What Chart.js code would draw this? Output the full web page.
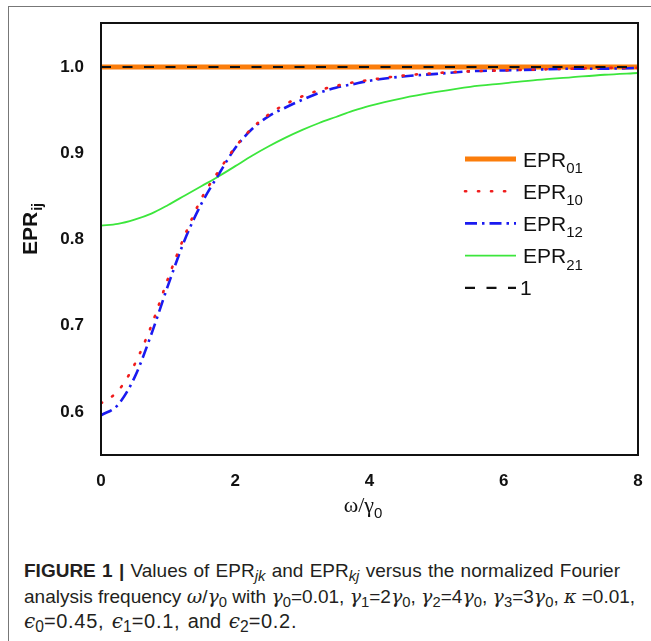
<!DOCTYPE html>
<html>
<head>
<meta charset="utf-8">
<script src="https://cdn.jsdelivr.net/npm/chart.js@4.4.1/dist/chart.umd.min.js"></script>
<style>
  html, body { margin: 0; padding: 0; width: 651px; height: 641px; overflow: hidden; background: #fff; }
  #frame { position: absolute; left: 8px; top: 6px; width: 700px; height: 700px;
           border-top: 1.5px solid #777; border-left: 1.5px solid #777; }
  #chart { position: absolute; left: 0; top: 0; }
  #cap { position: absolute; left: 24px; top: 559px; color: #231f20; white-space: nowrap;
         font-family: 'Liberation Sans', Arial, sans-serif;
         font-size: 19px; line-height: 24.5px; }
  #cap .m { font-family: 'DejaVu Serif', 'Liberation Serif', serif; font-style: italic; }
  #cap sub { font-size: 78%; vertical-align: -0.25em; line-height: 0; }
  #cap .l1 { word-spacing: 1px; }
  #cap .l3 { font-size: 20px; word-spacing: 2px; }
  #cap .l3 .n { letter-spacing: 0.7px; }
</style>
</head>
<body>
<div id="frame"></div>
<canvas id="chart" width="651" height="540"></canvas>
<div id="cap">
  <span class="l1"><b>FIGURE 1 |</b> Values of EPR<sub><i>jk</i></sub> and EPR<sub><i>kj</i></sub> versus the normalized Fourier</span><br>
  <span class="l2">analysis frequency <span class="m">ω</span>/<span class="m">γ</span><sub>0</sub> with <span class="m">γ</span><sub>0</sub>=0.01, <span class="m">γ</span><sub>1</sub>=2<span class="m">γ</span><sub>0</sub>, <span class="m">γ</span><sub>2</sub>=4<span class="m">γ</span><sub>0</sub>, <span class="m">γ</span><sub>3</sub>=3<span class="m">γ</span><sub>0</sub>, <span class="m">κ</span> =0.01,</span><br>
  <span class="l3"><span class="m">ϵ</span><sub>0</sub><span class="n">=0.45,</span> <span class="m">ϵ</span><sub>1</sub><span class="n">=0.1,</span> and <span class="m">ϵ</span><sub>2</sub><span class="n">=0.2.</span></span>
</div>
<script>
// omega / gamma0
const omega = [0, 0.25, 0.5, 0.75, 1, 1.25, 1.5, 1.75, 2, 2.25, 2.5, 2.75, 3, 3.25, 3.5, 3.75, 4, 4.5, 5, 5.5, 6, 6.5, 7, 7.5, 8];
const epr10 = [0.610, 0.624, 0.655, 0.700, 0.755, 0.805, 0.848, 0.879, 0.907, 0.929, 0.945, 0.957, 0.966, 0.973, 0.978, 0.982, 0.985, 0.990, 0.993, 0.995, 0.996, 0.997, 0.998, 0.999, 0.999];
const epr12 = [0.596, 0.608, 0.640, 0.690, 0.747, 0.800, 0.842, 0.875, 0.906, 0.928, 0.943, 0.953, 0.962, 0.970, 0.976, 0.980, 0.984, 0.989, 0.992, 0.995, 0.996, 0.997, 0.998, 0.998, 0.999];
const epr21 = [0.816, 0.818, 0.823, 0.830, 0.840, 0.851, 0.862, 0.873, 0.885, 0.897, 0.908, 0.918, 0.927, 0.935, 0.942, 0.949, 0.955, 0.964, 0.971, 0.977, 0.981, 0.985, 0.988, 0.991, 0.993];
const flatX = [0, 8];
const epr01 = [1, 1];
const unity = [1, 1];

const xTicks = [0, 2, 4, 6, 8];
const yTicks = [0.6, 0.7, 0.8, 0.9, 1.0];
const legendNames = [['EPR', '01'], ['EPR', '10'], ['EPR', '12'], ['EPR', '21'], ['1', '']];

const pts = (xs, ys) => xs.map((x, i) => ({ x: x, y: ys[i] }));
const SANS = '"Liberation Sans", Arial, sans-serif';

// legend, plot box and axis titles (need subscripts)
const extras = {
  id: 'extras',
  afterDraw(chart) {
    const ctx = chart.ctx, a = chart.chartArea;
    ctx.save();
    ctx.strokeStyle = '#111';
    ctx.lineWidth = 2;
    ctx.setLineDash([]);
    ctx.strokeRect(a.left, a.top, a.right - a.left, a.bottom - a.top);

    // legend
    chart.data.datasets.forEach((ds, i) => {
      const y = 159 + i * 32.2;
      ctx.save();
      ctx.strokeStyle = ds.borderColor;
      ctx.lineWidth = ds.borderWidth;
      ctx.lineCap = ds.borderCapStyle || 'butt';
      ctx.setLineDash(ds.borderDash || []);
      ctx.beginPath();
      ctx.moveTo(465, y);
      ctx.lineTo(516, y);
      ctx.stroke();
      ctx.restore();
      const nm = legendNames[i];
      ctx.fillStyle = '#111';
      ctx.textAlign = 'left';
      ctx.textBaseline = 'alphabetic';
      ctx.font = '21px ' + SANS;
      const tx = nm[1] ? 523 : 520;
      ctx.fillText(nm[0], tx, y + 7.5);
      const w = ctx.measureText(nm[0]).width;
      ctx.font = '15px ' + SANS;
      ctx.fillText(nm[1], tx + w, y + 14);
    });

    // y title
    ctx.save();
    ctx.translate(29, 255);
    ctx.rotate(-Math.PI / 2);
    ctx.fillStyle = '#111';
    ctx.font = 'bold 21px ' + SANS;
    ctx.fillText('EPR', 0, 7.5);
    const wy = ctx.measureText('EPR').width;
    ctx.font = 'bold 14px ' + SANS;
    ctx.fillText('ij', wy + 1, 12.7);
    ctx.restore();

    // x title
    const SER = '22px "Liberation Serif", "DejaVu Serif", serif';
    ctx.font = SER;
    const w1 = ctx.measureText('ω/γ').width;
    ctx.font = '15px ' + SANS;
    const w2 = ctx.measureText('0').width;
    const sx = 363 - (w1 + w2) / 2;
    ctx.fillStyle = '#111';
    ctx.font = SER;
    ctx.fillText('ω/γ', sx, 512);
    ctx.font = '15px ' + SANS;
    ctx.fillText('0', sx + w1, 518);
    ctx.restore();
  }
};

new Chart(document.getElementById('chart'), {
  type: 'line',
  data: {
    datasets: [
      { label: 'EPR01', data: pts(flatX, epr01), borderColor: '#fb7d0b', borderWidth: 5, order: 5 },
      { label: 'EPR10', data: pts(omega, epr10), borderColor: '#f01c1c', borderWidth: 2.6,
        borderDash: [1.2, 11.8], borderCapStyle: 'round', order: 2 },
      { label: 'EPR12', data: pts(omega, epr12), borderColor: '#1a1af0', borderWidth: 2.6,
        borderDash: [12, 5, 2.5, 5], order: 3 },
      { label: 'EPR21', data: pts(omega, epr21), borderColor: '#3ce63c', borderWidth: 1.8, order: 4 },
      { label: '1', data: pts(flatX, unity), borderColor: '#111', borderWidth: 2.2,
        borderDash: [10, 11.5], order: 1 }
    ]
  },
  options: {
    responsive: false,
    animation: false,
    devicePixelRatio: 1,
    layout: { padding: { top: 23, right: 13, left: 0, bottom: 0 } },
    elements: { point: { radius: 0 }, line: { cubicInterpolationMode: 'monotone' } },
    plugins: { legend: { display: false }, tooltip: { enabled: false } },
    scales: {
      x: {
        type: 'linear', min: 0, max: 8,
        grid: { display: false }, border: { display: false },
        afterBuildTicks: s => { s.ticks = xTicks.map(v => ({ value: v })); },
        afterFit: s => { s.height = 85; },
        ticks: { padding: 8, color: '#111', font: { family: SANS, size: 17, weight: 'bold' },
                 maxRotation: 0, callback: v => String(v) }
      },
      y: {
        type: 'linear', min: 0.55, max: 1.051,
        grid: { display: false }, border: { display: false },
        afterBuildTicks: s => { s.ticks = yTicks.map(v => ({ value: v })); },
        afterFit: s => { s.width = 101; },
        ticks: { padding: 9, color: '#111', font: { family: SANS, size: 17, weight: 'bold' },
                 callback: v => v.toFixed(1) }
      }
    }
  },
  plugins: [extras]
});
</script>
</body>
</html>
